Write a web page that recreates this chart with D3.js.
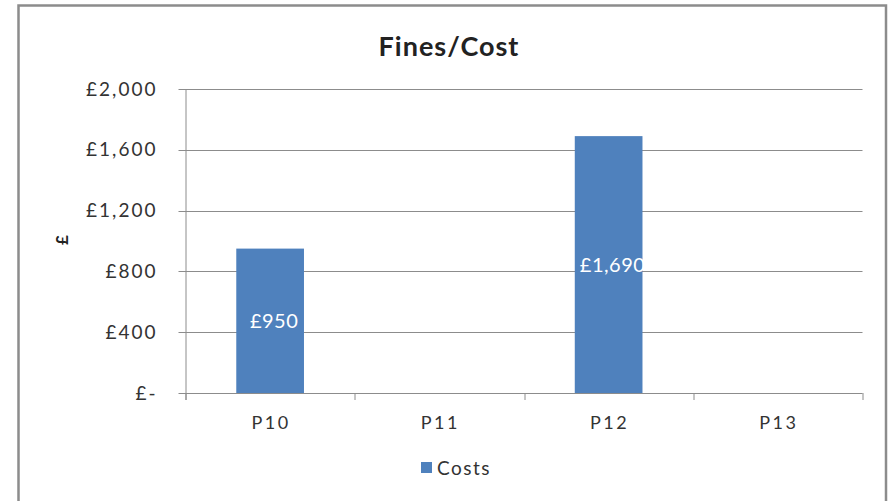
<!DOCTYPE html>
<html>
<head>
<meta charset="utf-8">
<script src="https://cdn.jsdelivr.net/npm/d3@7"></script>
<style>
  body { margin: 0; background: #fff; }
  text { font-family: Lato, "Open Sans", sans-serif; fill: #222; }
</style>
</head>
<body>
<div id="chart-area"></div>
<script>
// data
const periods = ["P10", "P11", "P12", "P13"];
const costs = [950, null, 1690, null];
const yTicks = [0, 400, 800, 1200, 1600, 2000];

const W = 890, H = 501;
const MARGIN = { LEFT: 185.5, RIGHT: 27.5, TOP: 89, BOTTOM: 108 };
const WIDTH = W - MARGIN.LEFT - MARGIN.RIGHT;
const HEIGHT = H - MARGIN.TOP - MARGIN.BOTTOM;

const svg = d3.select("#chart-area").append("svg")
  .attr("width", W).attr("height", H);

// outer frame
svg.append("rect")
  .attr("x", 18.5).attr("y", 5.5)
  .attr("width", 867.5).attr("height", 520)
  .attr("fill", "#fff")
  .attr("stroke", "#8c8c8c")
  .attr("stroke-width", 2.5);

const g = svg.append("g")
  .attr("transform", `translate(${MARGIN.LEFT}, ${MARGIN.TOP})`);

const x = d3.scaleBand().domain(periods).range([0, WIDTH]).paddingInner(0.6).paddingOuter(0.3);
const xb = d3.scaleBand().domain(periods).range([0, WIDTH]);
const y = d3.scaleLinear().domain([0, 2000]).range([HEIGHT, 0]);

const fmt = d => d === 0 ? "£-" : "£" + d3.format(",")(d);

// gridlines
g.append("g")
  .selectAll("line")
  .data(yTicks)
  .join("line")
  .attr("x1", -7).attr("x2", WIDTH)
  .attr("y1", d => Math.round(y(d)) + 0.5)
  .attr("y2", d => Math.round(y(d)) + 0.5)
  .attr("stroke", "#8c8c8c")
  .attr("stroke-width", 1);

// y axis labels
g.append("g")
  .selectAll("text")
  .data(yTicks)
  .join("text")
  .attr("x", -28)
  .attr("y", d => y(d))
  .attr("dy", "0.35em")
  .attr("text-anchor", "end")
  .attr("font-size", "19px")
  .attr("letter-spacing", "2px")
  .style("fill", "#333")
  .text(fmt);

// y axis line
g.append("line")
  .attr("x1", 0.5).attr("x2", 0.5)
  .attr("y1", 0).attr("y2", HEIGHT + 7)
  .attr("stroke", "#8c8c8c");

// x axis with ticks at category boundaries
const bounds = periods.map(p => xb(p)).concat([WIDTH]);
g.append("g")
  .selectAll("line")
  .data(bounds)
  .join("line")
  .attr("x1", d => Math.round(d) + 0.5).attr("x2", d => Math.round(d) + 0.5)
  .attr("y1", HEIGHT).attr("y2", HEIGHT + 7)
  .attr("stroke", "#8c8c8c");

g.append("g")
  .selectAll("text")
  .data(periods)
  .join("text")
  .attr("x", d => xb(d) + xb.bandwidth() / 2 + 1)
  .attr("y", HEIGHT + 36)
  .attr("text-anchor", "middle")
  .attr("font-size", "18px")
  .attr("letter-spacing", "2.5px")
  .style("fill", "#333")
  .text(d => d);

// bars
const barData = periods.map((p, i) => ({ p, v: costs[i] })).filter(d => d.v != null);
g.selectAll("rect.bar")
  .data(barData)
  .join("rect")
  .attr("class", "bar")
  .attr("x", d => x(d.p))
  .attr("y", d => y(d.v))
  .attr("width", x.bandwidth())
  .attr("height", d => HEIGHT - y(d.v))
  .attr("fill", "#4f81bd");

// data labels
g.selectAll("text.lbl")
  .data(barData)
  .join("text")
  .attr("class", "lbl")
  .attr("x", d => x(d.p) + x.bandwidth() / 2 + 4)
  .attr("y", d => (y(d.v) + HEIGHT) / 2)
  .attr("dy", "0.35em")
  .attr("text-anchor", "middle")
  .attr("font-size", "20px")
  .attr("letter-spacing", "0.5px")
  .style("fill", "#fff")
  .text(d => fmt(d.v));

// title
svg.append("text")
  .attr("x", 449).attr("y", 56)
  .attr("text-anchor", "middle")
  .attr("font-size", "27px")
  .attr("font-weight", "bold")
  .attr("letter-spacing", "1px")
  .text("Fines/Cost");

// y axis title
svg.append("text")
  .attr("transform", "translate(68, 240) rotate(-90)")
  .attr("text-anchor", "middle")
  .attr("font-size", "17px")
  .attr("font-weight", "bold")
  .text("£");

// legend
svg.append("rect")
  .attr("x", 421).attr("y", 462)
  .attr("width", 11).attr("height", 11)
  .attr("fill", "#4f81bd");
svg.append("text")
  .attr("x", 437).attr("y", 468)
  .attr("dy", "0.35em")
  .attr("font-size", "19px")
  .attr("letter-spacing", "1.5px")
  .style("fill", "#333")
  .text("Costs");
</script>
</body>
</html>
